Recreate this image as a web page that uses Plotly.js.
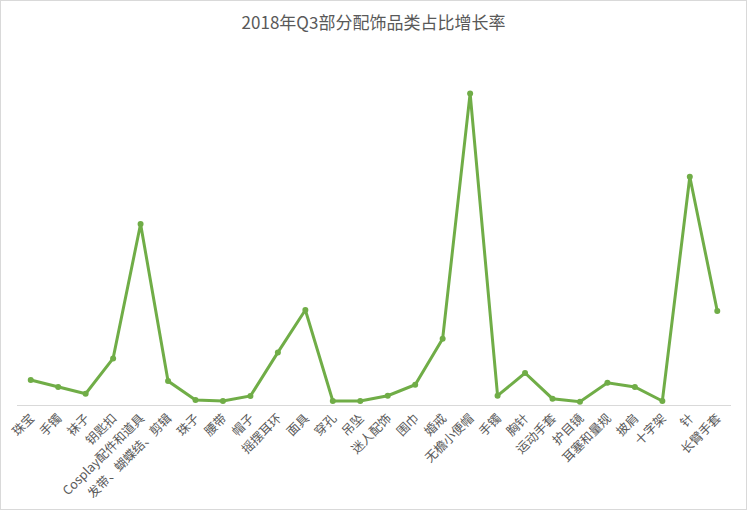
<!DOCTYPE html>
<html>
<head>
<meta charset="utf-8">
<script src="https://cdn.plot.ly/plotly-3.0.1.min.js"></script>
<style>
  html, body { margin: 0; padding: 0; background: #fff; }
  #graphDiv { width: 747px; height: 510px; border: 1px solid #d9d9d9; box-sizing: border-box; }
</style>
</head>
<body>
<div id="graphDiv"></div>
<script>
// html tag
const graphDiv = document.getElementById('graphDiv');

// data ************************************************************************
const categories = [
  '珠宝', '手镯', '袜子', '钥匙扣', 'Cosplay配件和道具', '发带、蝴蝶结、剪辑',
  '珠子', '腰带', '帽子', '摇摆耳环', '面具', '穿孔', '吊坠', '迷人配饰',
  '围巾', '婚戒', '无檐小便帽', '手镯', '胸针', '运动手套', '护目镜',
  '耳塞和量规', '披肩', '十字架', '针', '长臂手套'
];

// growth rate (no axis in the original)
const growthRate = [
  25, 18, 11.3, 46.6, 181, 24,
  5, 4, 9, 52.6, 95, 4, 4, 9.3,
  20.3, 66.3, 311.6, 9.3, 32, 6.3, 3.3,
  22.3, 18, 4, 228.3, 94
];

// categories repeat ('手镯'), so plot against positions
const positions = categories.map(function(c, i){ return i; });

// plot ************************************************************************
Plotly.newPlot(
  graphDiv,
  [
  {
    name: '占比增长率',
    x: positions,
    y: growthRate,
    type: 'scatter',
    mode: 'lines+markers',
    line: {color: '#70ad47', width: 3},
    marker: {color: '#70ad47', size: 6},
    hovertemplate: '%{text}: %{y}<extra></extra>',
    text: categories
  }
  ],
  {
    width: 745,
    height: 508,
    margin: { l: 16, r: 15, t: 44, b: 104 },
    paper_bgcolor: '#ffffff',
    plot_bgcolor: '#ffffff',
    showlegend: false,
    font: { family: '"Noto Sans CJK SC", "Noto Sans", sans-serif', color: '#595959' },
    title: {
      text: '2018年Q3部分配饰品类占比增长率',
      font: { size: 17, color: '#595959' },
      x: 0.5,
      xanchor: 'center',
      y: 0.957,
      yanchor: 'middle',
      yref: 'container'
    },
    xaxis: {
      range: [-0.5, categories.length - 0.5],
      tickmode: 'array',
      tickvals: positions,
      ticktext: categories,
      tickangle: -45,
      tickfont: { size: 12.5, color: '#595959' },
      ticks: '',
      showgrid: false,
      zeroline: false,
      showline: true,
      linecolor: '#d9d9d9',
      linewidth: 1,
      fixedrange: true
    },
    yaxis: {
      range: [0, 360],
      showticklabels: false,
      showgrid: false,
      zeroline: false,
      showline: false,
      ticks: '',
      fixedrange: true
    }
  },
  { displayModeBar: false, staticPlot: true }
);
</script>
</body>
</html>
